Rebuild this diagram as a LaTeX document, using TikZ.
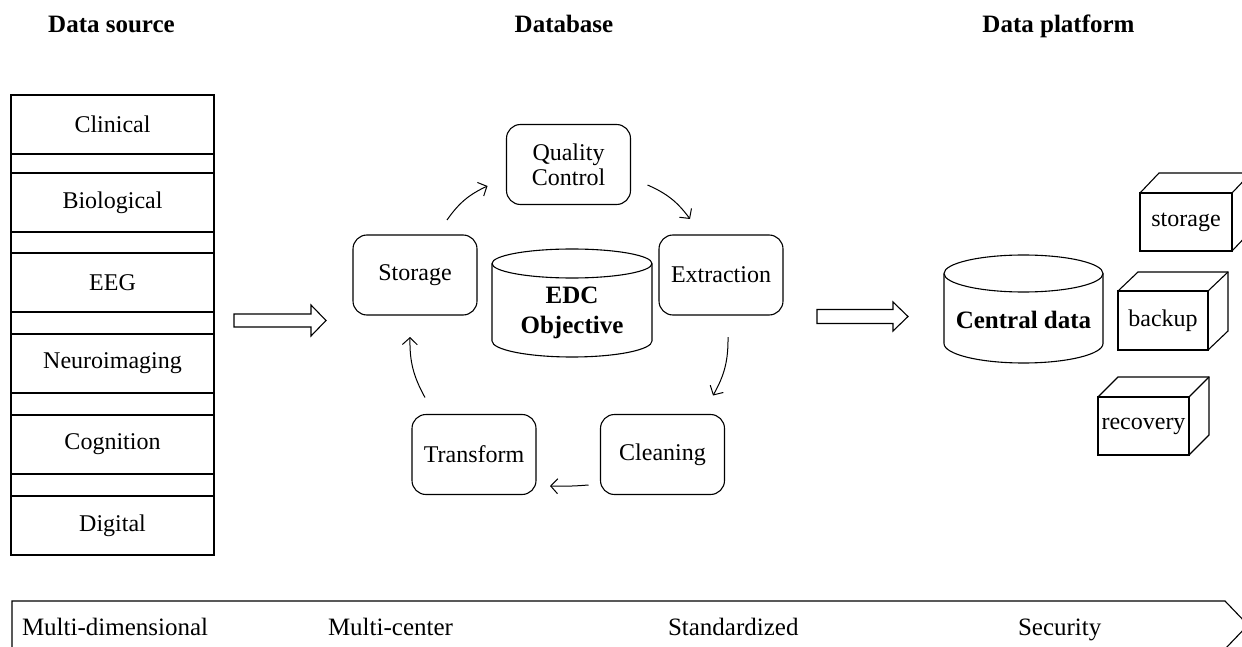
\documentclass[tikz,border=0pt]{standalone}
\usepackage{fontspec}
\setmainfont{Liberation Serif}
\usetikzlibrary{arrows.meta,calc}

\begin{document}
\begin{tikzpicture}[x=1pt,y=1pt,yscale=-1,
  every node/.style={inner sep=0pt, outer sep=0pt},
  lw/.style={line width=1.1pt},
  header/.style={anchor=base, font=\fontsize{25}{28}\bfseries\selectfont},
  srcbox/.style={draw, lw, minimum width=203, minimum height=59, font=\fontsize{24}{28}\selectfont},
  procbox/.style={draw, lw, rounded corners=14, minimum width=124, minimum height=80, align=center, font=\fontsize{24}{25}\selectfont},
  dbtext/.style={align=center, font=\fontsize{25}{30}\bfseries\selectfont},
  cubebox/.style={draw, lw, minimum height=58, font=\fontsize{24}{28}\selectfont},
  banner/.style={anchor=base west, font=\fontsize{25}{30}\selectfont},
  cycle/.style={line width=1pt, -{Straight Barb[length=7pt,width=15pt]}},
]
\useasboundingbox (0,0) rectangle (1242,647);

% column headings
\node[header] (hsrc) at (111.5,33) {Data source};
\node[header] (hdb) at (564,33) {Database};
\node[header] (hplat) at (1058.5,33) {Data platform};

% data sources
\node[srcbox] (clin) at (112.5,124.5) {Clinical};
\node[srcbox] (bio) at (112.5,202.5) {Biological};
\node[srcbox] (eeg) at (112.5,282.5) {EEG};
\node[srcbox] (neuro) at (112.5,363.5) {Neuroimaging};
\node[srcbox] (cogn) at (112.5,444.5) {Cognition};
\node[srcbox] (digi) at (112.5,525.5) {Digital};
\draw[lw] (clin.north west) rectangle (digi.south east);

% hollow arrows between the columns
\coordinate (arrA) at (234,320.5);
\draw[lw] (arrA) ++(0,-6.5) -- ++(77,0) -- ++(0,-9) -- ++(15,15.5)
  -- ++(-15,15.5) -- ++(0,-9) -- ++(-77,0) -- cycle;
\coordinate (arrB) at (817,316.5);
\draw[lw] (arrB) ++(0,-7) -- ++(76,0) -- ++(0,-7.5) -- ++(15,14.5)
  -- ++(-15,14.5) -- ++(0,-7.5) -- ++(-76,0) -- cycle;

% processing cycle
\node[procbox] (qc) at (568.5,164.5) {Quality\\Control};
\node[procbox] (stor) at (415,275) {Storage};
\node[procbox] (extr) at (721,275) {Extraction};
\node[procbox] (trans) at (474,454.5) {Transform};
\node[procbox] (clean) at (662.5,454.5) {Cleaning};

% EDC database cylinder
\node[dbtext, minimum width=160, minimum height=108] (edc) at (572,303) {};
\node[dbtext] (edct) at (572,313) {EDC\\Objective};
\draw[lw] ($(edc.north west)+(0,14.5)$) -- ($(edc.south west)+(0,-16)$)
  arc[start angle=180, end angle=0, x radius=80, y radius=16]
  -- ($(edc.north east)+(0,14.5)$);
\draw[lw] ($(edc.north)+(0,14.5)$) ellipse[x radius=80, y radius=14.5];

% cycle connectors
\draw[cycle] ($(stor.north)+(32,-15)$) to[bend right=15] ($(qc.west)+(-19,21.5)$);
\draw[cycle] ($(qc.east)+(17,20.5)$) to[bend right=15] ($(extr.north)+(-31,-16)$);
\draw[cycle] ($(extr.south)+(7,22)$) to[bend right=15] ($(clean.north)+(50.5,-19)$);
\draw[cycle] ($(clean.west)+(-12,30.5)$) to[bend right=3] ($(trans.east)+(14,31.5)$);
\draw[cycle] ($(trans.north)+(-49,-17)$) to[bend right=15] ($(stor.south)+(-5,22)$);

% central data cylinder
\node[dbtext, minimum width=159, minimum height=108] (cdata) at (1023.5,309) {};
\node[dbtext] (cdatat) at (1023.5,320) {Central data};
\draw[lw] ($(cdata.north west)+(0,18.5)$) -- ($(cdata.south west)+(0,-19.5)$)
  arc[start angle=180, end angle=0, x radius=79.5, y radius=19.5]
  -- ($(cdata.north east)+(0,18.5)$);
\draw[lw] ($(cdata.north)+(0,18.5)$) ellipse[x radius=79.5, y radius=18.5];

% platform services as boxes
\node[cubebox, minimum width=92] (cstor) at (1186,222) {storage};
\draw[lw] (cstor.north west) -- ++(19,-20) -- ++(92,0) -- ++(0,58) -- (cstor.south east);
\draw[lw] (cstor.north east) -- ++(19,-20);

\node[cubebox, minimum width=90, minimum height=59] (cback) at (1163,320.5) {backup};
\draw[lw] (cback.north west) -- ++(20,-19) -- ++(90,0) -- ++(0,59) -- (cback.south east);
\draw[lw] (cback.north east) -- ++(20,-19);

\node[cubebox, minimum width=91] (crec) at (1143.5,426) {recovery};
\draw[lw] (crec.north west) -- ++(20,-20) -- ++(91,0) -- ++(0,58) -- (crec.south east);
\draw[lw] (crec.north east) -- ++(20,-20);

% bottom banner
\draw[lw] (12,670) -- (12,601) -- (1225,601) -- (1248,625) -- (1225,649);
\node[banner] (b1) at (22,635) {Multi-dimensional};
\node[banner] (b2) at (328,635) {Multi-center};
\node[banner] (b3) at (668,635) {Standardized};
\node[banner] (b4) at (1018,635) {Security};
\end{tikzpicture}
\end{document}
